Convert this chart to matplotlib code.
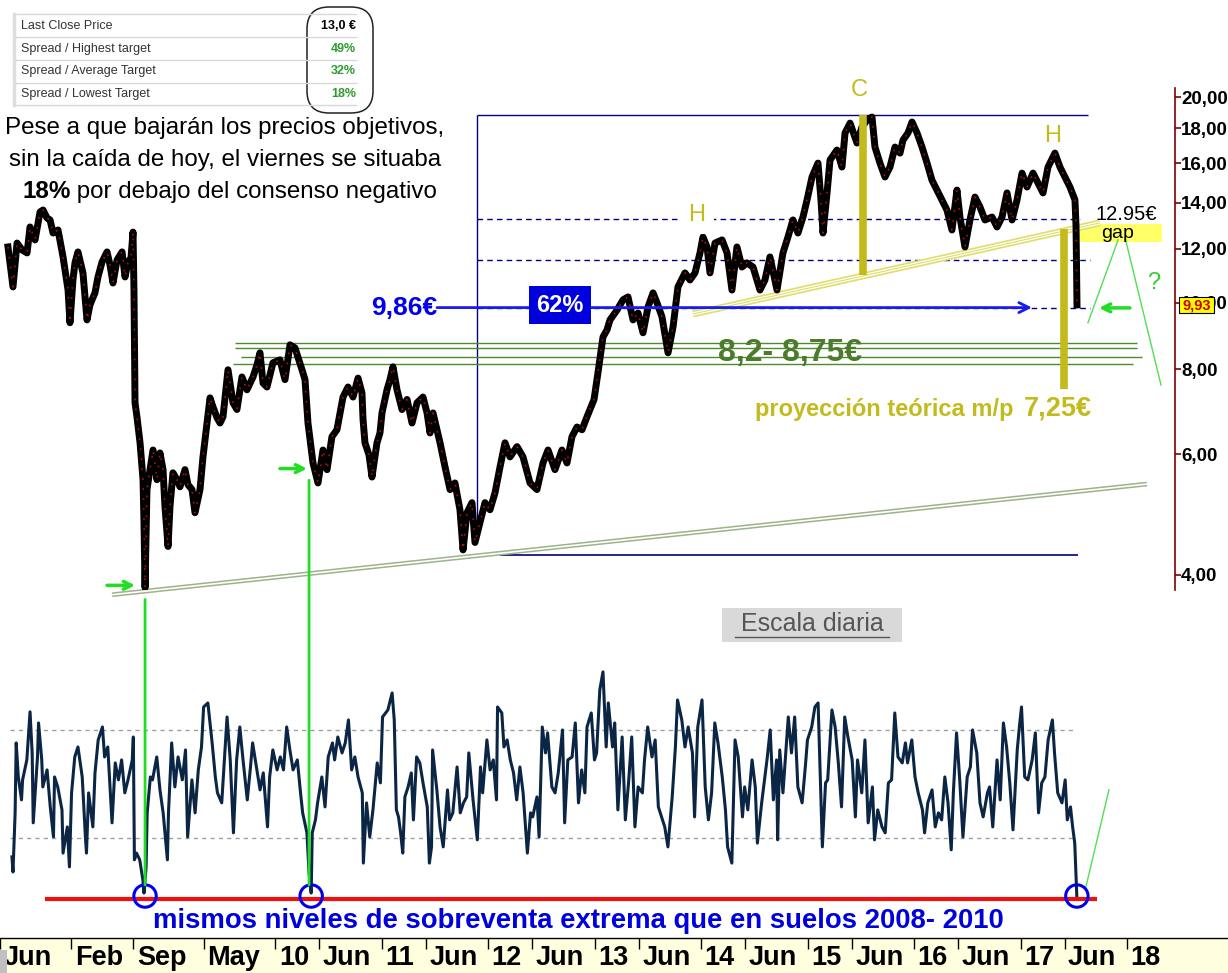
import numpy as np
import matplotlib.pyplot as plt
from matplotlib.patches import FancyBboxPatch, Rectangle, ConnectionPatch
from matplotlib.ticker import NullLocator

plt.rcParams['font.family'] = ['Liberation Sans', 'DejaVu Sans']

# --- price (decimal year, euros) ---
price_t = [
    2007.493, 2007.540, 2007.578, 2007.625, 2007.672, 2007.700, 2007.747, 2007.794, 2007.822, 2007.859,
    2007.888, 2007.916, 2007.963, 2008.010, 2008.057, 2008.075, 2008.103, 2008.122, 2008.150, 2008.197,
    2008.235, 2008.263, 2008.282, 2008.310, 2008.338, 2008.376, 2008.423, 2008.451, 2008.479, 2008.517,
    2008.564, 2008.592, 2008.620, 2008.648, 2008.667, 2008.676, 2008.686, 2008.704, 2008.733, 2008.761,
    2008.770, 2008.780, 2008.798, 2008.827, 2008.855, 2008.892, 2008.920, 2008.949, 2008.967, 2008.996,
    2009.014, 2009.042, 2009.080, 2009.108, 2009.155, 2009.183, 2009.221, 2009.249, 2009.296, 2009.324,
    2009.362, 2009.390, 2009.418, 2009.456, 2009.484, 2009.512, 2009.559, 2009.606, 2009.643, 2009.690,
    2009.737, 2009.794, 2009.831, 2009.859, 2009.888, 2009.925, 2009.981, 2010.047, 2010.094, 2010.141,
    2010.188, 2010.254, 2010.282, 2010.310, 2010.329, 2010.357, 2010.404, 2010.451, 2010.489, 2010.535,
    2010.582, 2010.639, 2010.686, 2010.733, 2010.780, 2010.817, 2010.827, 2010.845, 2010.883, 2010.911,
    2010.958, 2010.986, 2011.005, 2011.052, 2011.080, 2011.108, 2011.146, 2011.193, 2011.240, 2011.287,
    2011.334, 2011.390, 2011.428, 2011.456, 2011.484, 2011.521, 2011.550, 2011.597, 2011.644, 2011.690,
    2011.737, 2011.766, 2011.803, 2011.850, 2011.878, 2011.925, 2011.972, 2012.019, 2012.066, 2012.113,
    2012.160, 2012.207, 2012.273, 2012.329, 2012.395, 2012.460, 2012.517, 2012.564, 2012.629, 2012.695,
    2012.742, 2012.789, 2012.836, 2012.883, 2012.930, 2012.958, 2012.996, 2013.033, 2013.080, 2013.118,
    2013.146, 2013.212, 2013.268, 2013.315, 2013.362, 2013.409, 2013.456, 2013.503, 2013.550, 2013.587,
    2013.634, 2013.691, 2013.738, 2013.784, 2013.850, 2013.897, 2013.944, 2013.991, 2014.019, 2014.057,
    2014.085, 2014.132, 2014.198, 2014.245, 2014.291, 2014.338, 2014.385, 2014.432, 2014.489, 2014.554,
    2014.601, 2014.648, 2014.714, 2014.770, 2014.817, 2014.864, 2014.911, 2014.958, 2014.996, 2015.043,
    2015.099, 2015.127, 2015.146, 2015.184, 2015.212, 2015.277, 2015.324, 2015.353, 2015.400, 2015.465,
    2015.512, 2015.559, 2015.606, 2015.634, 2015.681, 2015.728, 2015.775, 2015.822, 2015.869, 2015.897,
    2015.944, 2015.982, 2016.029, 2016.076, 2016.123, 2016.169, 2016.216, 2016.263, 2016.310, 2016.357,
    2016.404, 2016.432, 2016.479, 2016.526, 2016.573, 2016.620, 2016.667, 2016.733, 2016.780, 2016.827,
    2016.874, 2016.921, 2016.968, 2017.015, 2017.062, 2017.118, 2017.165, 2017.212, 2017.259, 2017.324,
    2017.371, 2017.418, 2017.465, 2017.512, 2017.522, 2017.531]
price_v = [
    12.07, 10.55, 12.23, 11.95, 11.83, 12.91, 12.36, 13.58, 13.67, 13.31,
    13.22, 12.65, 12.78, 11.67, 10.44, 9.35, 10.80, 11.44, 11.87, 11.06,
    9.44, 9.93, 10.10, 10.34, 10.91, 11.47, 11.87, 11.36, 10.69, 11.55,
    11.87, 10.91, 11.47, 11.63, 12.69, 10.44, 7.14, 6.81, 6.24, 5.51,
    4.77, 3.83, 5.33, 5.70, 6.09, 5.51, 6.03, 5.70, 5.03, 4.40,
    5.03, 5.64, 5.51, 5.38, 5.70, 5.42, 5.33, 4.93, 5.33, 5.95,
    6.67, 7.26, 7.04, 6.79, 6.67, 6.81, 7.98, 7.14, 6.98, 7.79,
    7.46, 7.79, 8.11, 8.45, 7.63, 7.53, 8.17, 8.25, 7.72, 8.68,
    8.59, 7.98, 7.72, 6.67, 6.31, 5.83, 5.45, 6.09, 5.70, 6.37,
    6.52, 7.28, 7.53, 7.28, 7.76, 7.38, 6.75, 6.24, 5.99, 5.56,
    6.24, 6.45, 6.90, 7.46, 7.72, 8.06, 7.46, 6.98, 7.22, 6.67,
    7.14, 7.28, 6.90, 6.45, 6.90, 6.52, 6.24, 5.75, 5.33, 5.45,
    4.98, 4.35, 4.93, 5.10, 4.46, 4.77, 5.10, 4.98, 5.27, 5.75,
    6.24, 5.95, 6.16, 5.95, 5.45, 5.33, 5.83, 6.09, 5.70, 6.09,
    5.83, 6.37, 6.58, 6.52, 6.81, 6.98, 7.22, 7.90, 8.91, 9.13,
    9.44, 9.76, 10.10, 10.20, 9.44, 9.66, 9.04, 9.86, 10.34, 10.00,
    9.54, 8.45, 9.22, 10.55, 11.06, 10.80, 11.06, 11.83, 12.48, 12.07,
    11.06, 12.23, 12.36, 11.83, 10.44, 12.07, 11.28, 11.44, 11.28, 10.44,
    10.80, 11.67, 10.44, 11.83, 12.48, 13.22, 12.65, 13.35, 14.14, 15.28,
    16.01, 14.14, 12.65, 14.48, 16.18, 16.73, 15.80, 17.72, 18.32, 17.13,
    18.08, 18.51, 18.70, 16.90, 16.01, 15.28, 15.80, 16.90, 16.56, 17.30,
    17.72, 18.39, 17.72, 16.90, 16.01, 15.12, 14.62, 14.14, 13.67, 12.78,
    14.62, 13.35, 12.07, 13.22, 14.28, 13.81, 13.22, 13.35, 12.91, 13.35,
    14.48, 13.22, 14.14, 15.48, 14.77, 15.48, 14.97, 14.48, 15.80, 16.56,
    15.80, 15.28, 14.77, 14.14, 12.95, 9.93]

# --- oscillator (decimal year, 0-100 scale) ---
osc_t = [
    2007.53, 2007.54, 2007.56, 2007.57, 2007.59, 2007.62, 2007.63, 2007.67, 2007.70, 2007.72,
    2007.73, 2007.77, 2007.78, 2007.81, 2007.82, 2007.86, 2007.89, 2007.92, 2007.93, 2007.96,
    2008.00, 2008.01, 2008.05, 2008.07, 2008.09, 2008.12, 2008.15, 2008.19, 2008.22, 2008.23,
    2008.25, 2008.29, 2008.31, 2008.34, 2008.38, 2008.40, 2008.43, 2008.47, 2008.50, 2008.53,
    2008.56, 2008.59, 2008.62, 2008.66, 2008.67, 2008.68, 2008.70, 2008.73, 2008.76, 2008.77,
    2008.79, 2008.80, 2008.83, 2008.85, 2008.89, 2008.92, 2008.95, 2008.99, 2009.00, 2009.03,
    2009.06, 2009.09, 2009.13, 2009.16, 2009.18, 2009.22, 2009.25, 2009.28, 2009.31, 2009.33,
    2009.37, 2009.41, 2009.44, 2009.46, 2009.50, 2009.55, 2009.58, 2009.61, 2009.64, 2009.67,
    2009.70, 2009.74, 2009.77, 2009.79, 2009.83, 2009.86, 2009.89, 2009.93, 2009.95, 2009.98,
    2010.02, 2010.05, 2010.08, 2010.11, 2010.14, 2010.17, 2010.21, 2010.24, 2010.26, 2010.30,
    2010.32, 2010.34, 2010.35, 2010.38, 2010.40, 2010.44, 2010.47, 2010.50, 2010.54, 2010.56,
    2010.59, 2010.63, 2010.66, 2010.69, 2010.72, 2010.75, 2010.78, 2010.82, 2010.83, 2010.86,
    2010.89, 2010.92, 2010.96, 2010.99, 2011.01, 2011.06, 2011.10, 2011.12, 2011.14, 2011.16,
    2011.18, 2011.20, 2011.22, 2011.25, 2011.28, 2011.30, 2011.33, 2011.36, 2011.39, 2011.43,
    2011.45, 2011.47, 2011.48, 2011.52, 2011.55, 2011.58, 2011.62, 2011.64, 2011.67, 2011.71,
    2011.74, 2011.77, 2011.80, 2011.82, 2011.86, 2011.90, 2011.93, 2011.95, 2011.99, 2012.02,
    2012.05, 2012.08, 2012.09, 2012.13, 2012.15, 2012.18, 2012.21, 2012.24, 2012.27, 2012.30,
    2012.33, 2012.37, 2012.40, 2012.42, 2012.46, 2012.48, 2012.51, 2012.54, 2012.56, 2012.60,
    2012.63, 2012.66, 2012.70, 2012.72, 2012.75, 2012.79, 2012.82, 2012.85, 2012.88, 2012.91,
    2012.93, 2012.97, 2013.00, 2013.02, 2013.05, 2013.08, 2013.11, 2013.13, 2013.17, 2013.19,
    2013.22, 2013.26, 2013.29, 2013.32, 2013.35, 2013.38, 2013.41, 2013.45, 2013.47, 2013.50,
    2013.54, 2013.57, 2013.60, 2013.63, 2013.66, 2013.69, 2013.73, 2013.76, 2013.78, 2013.82,
    2013.85, 2013.88, 2013.92, 2013.94, 2013.97, 2014.01, 2014.04, 2014.07, 2014.10, 2014.13,
    2014.16, 2014.20, 2014.23, 2014.25, 2014.29, 2014.32, 2014.35, 2014.39, 2014.41, 2014.44,
    2014.48, 2014.51, 2014.53, 2014.57, 2014.62, 2014.65, 2014.68, 2014.71, 2014.72, 2014.74,
    2014.77, 2014.79, 2014.82, 2014.85, 2014.88, 2014.91, 2014.95, 2014.98, 2015.00, 2015.04,
    2015.07, 2015.10, 2015.14, 2015.17, 2015.19, 2015.23, 2015.26, 2015.29, 2015.32, 2015.35,
    2015.38, 2015.42, 2015.45, 2015.47, 2015.51, 2015.54, 2015.57, 2015.61, 2015.63, 2015.66,
    2015.70, 2015.73, 2015.76, 2015.79, 2015.82, 2015.85, 2015.89, 2015.92, 2015.94, 2015.98,
    2016.01, 2016.04, 2016.08, 2016.10, 2016.13, 2016.17, 2016.20, 2016.23, 2016.26, 2016.29,
    2016.32, 2016.35, 2016.37, 2016.40, 2016.43, 2016.46, 2016.50, 2016.53, 2016.55, 2016.59,
    2016.62, 2016.65, 2016.69, 2016.71, 2016.74, 2016.78, 2016.81, 2016.84, 2016.87, 2016.90,
    2016.93, 2016.97, 2016.99, 2017.01, 2017.04, 2017.07, 2017.11, 2017.14, 2017.17, 2017.20,
    2017.23, 2017.26, 2017.30, 2017.32, 2017.35, 2017.39, 2017.42, 2017.44, 2017.47, 2017.49,
    2017.51, 2017.53]
osc_v = [
    23.0, 17.4, 39.3, 65.2, 52.6, 44.1, 51.5, 58.9, 76.7, 61.5,
    35.6, 60.0, 72.6, 58.9, 48.9, 55.2, 41.5, 30.4, 52.6, 48.9,
    40.4, 24.4, 34.1, 19.3, 46.7, 60.0, 63.7, 52.6, 30.4, 24.4,
    46.7, 34.1, 54.1, 66.3, 71.1, 60.0, 63.7, 35.6, 57.8, 51.5,
    58.9, 46.7, 51.5, 58.9, 67.4, 21.9, 24.4, 21.9, 14.4, 9.6,
    19.3, 39.3, 52.6, 51.5, 60.0, 47.8, 39.3, 21.9, 39.3, 65.2,
    48.9, 60.0, 51.5, 62.6, 30.4, 51.5, 39.3, 55.2, 63.7, 78.5,
    80.0, 65.2, 52.6, 46.7, 43.0, 74.8, 58.9, 31.9, 58.9, 71.1,
    58.9, 44.1, 56.3, 65.2, 55.2, 47.8, 54.1, 34.1, 52.6, 62.6,
    55.2, 60.0, 55.2, 71.1, 62.6, 55.2, 58.9, 46.7, 39.3, 31.9,
    17.0, 9.6, 31.9, 36.7, 43.0, 52.6, 41.5, 60.0, 65.2, 58.9,
    67.4, 61.5, 65.2, 73.7, 55.2, 60.0, 52.6, 46.7, 20.7, 43.0,
    30.4, 40.4, 57.8, 50.4, 74.8, 77.4, 83.7, 73.7, 40.4, 37.8,
    31.9, 24.4, 45.2, 48.9, 54.1, 36.7, 60.0, 57.8, 50.4, 41.5,
    20.7, 26.7, 62.6, 47.8, 34.1, 26.7, 47.8, 36.7, 39.3, 56.3,
    39.3, 43.0, 45.2, 61.5, 44.1, 29.3, 56.3, 46.7, 66.3, 55.2,
    58.9, 44.1, 78.5, 76.3, 63.7, 66.3, 58.9, 54.1, 44.1, 56.3,
    46.7, 24.4, 39.3, 37.8, 45.2, 30.4, 71.1, 61.5, 68.9, 48.9,
    46.7, 54.1, 70.0, 35.6, 58.9, 60.0, 72.6, 43.0, 55.2, 46.7,
    71.1, 76.3, 58.9, 61.5, 84.8, 91.5, 63.7, 80.0, 63.7, 72.6,
    40.4, 67.4, 36.7, 50.4, 67.4, 34.1, 48.9, 46.7, 58.9, 71.1,
    60.0, 66.3, 41.5, 37.8, 34.1, 26.7, 45.2, 63.7, 81.1, 73.7,
    63.7, 71.1, 61.5, 37.8, 71.1, 81.1, 48.9, 36.7, 46.7, 72.6,
    65.2, 52.6, 40.4, 26.7, 20.7, 66.3, 60.0, 37.8, 48.9, 40.4,
    58.9, 48.9, 28.1, 43.0, 58.9, 70.0, 44.1, 58.9, 29.3, 62.6,
    46.7, 57.8, 74.8, 61.5, 74.8, 48.9, 43.0, 56.3, 66.3, 71.1,
    78.5, 80.0, 26.7, 50.4, 51.5, 77.4, 71.1, 57.8, 41.5, 74.8,
    67.4, 58.9, 37.8, 58.9, 46.7, 66.3, 35.6, 48.9, 29.3, 40.4,
    34.1, 31.9, 50.4, 51.5, 76.3, 60.0, 57.8, 65.2, 57.8, 66.3,
    52.6, 46.7, 40.4, 31.9, 43.0, 47.8, 34.1, 39.3, 36.7, 52.6,
    43.0, 25.6, 46.7, 68.9, 51.5, 30.4, 52.6, 56.3, 70.0, 61.5,
    43.0, 37.8, 46.7, 48.9, 34.1, 58.9, 44.1, 72.6, 63.7, 50.4,
    33.0, 62.6, 71.1, 78.5, 52.6, 51.5, 58.9, 68.9, 39.3, 50.4,
    52.6, 66.3, 73.7, 61.5, 46.7, 43.0, 51.5, 36.7, 41.5, 34.1,
    28.1, 7.8]

# annotation levels (euros)
fib_levels = [18.8, 13.25, 11.55, 9.84, 4.27]
zone_levels = [8.74, 8.59, 8.33, 8.14]
zone_start = [2009.625, 2009.625, 2009.681, 2009.606]
zone_end = [2018.094, 2018.094, 2018.141, 2018.056]
price_ticks = [4, 6, 8, 10, 12, 14, 16, 18, 20]
osc_bands = [30, 70]
oversold_level = 7.4
oversold_dates = [2008.78, 2010.34, 2017.53]

date_ticks = [2007.414, 2008.085, 2008.668, 2009.33, 2010.0, 2010.414, 2011.0, 2011.414,
              2012.0, 2012.414, 2013.0, 2013.414, 2014.0, 2014.414, 2015.0, 2015.414,
              2016.0, 2016.414, 2017.0, 2017.414, 2018.0]
date_labels = ["Jun", "Feb", "Sep", "May", "10", "Jun", "11", "Jun", "12", "Jun", "13",
               "Jun", "14", "Jun", "15", "Jun", "16", "Jun", "17", "Jun", "18"]

table_rows = ["Last Close Price", "Spread / Highest target",
              "Spread / Average Target", "Spread / Lowest Target"]
table_vals = ["13,0 €", "49%", "32%", "18%"]

W, H = 1228, 973
X0, X1 = 2007.418, 2018.949
OLIVE = '#c3bb1c'
LIME = '#22dd22'
NAVY = '#000080'

fig = plt.figure(figsize=(W / 100, H / 100), dpi=100)
fig.patch.set_facecolor('white')

ax = fig.add_axes([0, 1 - 590 / H, 1, 502 / H])
osc = fig.add_axes([0, 1 - 910 / H, 1, 250 / H])
dax = fig.add_axes([0, 0, 1, 35 / H])
ov = fig.add_axes([0, 0, 1, 1], zorder=5)
ov.set_xlim(0, W)
ov.set_ylim(H, 0)
ov.axis('off')

# ---------------- price panel ----------------
ax.set_yscale('log')
ax.set_xlim(X0, X1)
ax.set_ylim(3.80, 20.62)
for s in ['top', 'left', 'bottom']:
    ax.spines[s].set_visible(False)
ax.spines['right'].set_position(('data', 2018.451))
ax.spines['right'].set_color('#800000')
ax.spines['right'].set_linewidth(1.2)
ax.yaxis.tick_right()
ax.set_yticks(price_ticks, labels=[f"{v:.2f}".replace('.', ',') for v in price_ticks],
              fontsize=13.5, fontweight='bold')
ax.yaxis.set_minor_locator(NullLocator())
ax.tick_params(axis='y', colors='#800000', labelcolor='black', length=4, width=1.2, pad=0.5)
ax.set_xticks([])

ax.plot(price_t, price_v, color='black', lw=5, zorder=4)
ax.plot(price_t, price_v, color='#b01010', lw=1.2, ls=(0, (1, 5)), zorder=5)

# fibonacci box
ax.hlines(fib_levels[0], 2011.897, 2017.634, color=NAVY, lw=1)
ax.vlines(2011.897, 4.70, fib_levels[0], color=NAVY, lw=1)
ax.hlines(fib_levels[-1], 2012.113, 2017.540, color=NAVY, lw=1.2)
for lvl, xe in zip(fib_levels[1:4], [2017.559, 2017.653, 2017.653]):
    ax.hlines(lvl, 2011.897, xe, colors=NAVY, linestyles=(0, (4, 3)), lw=1)
ax.annotate('', xy=(2017.108, fib_levels[3]), xytext=(2011.521, fib_levels[3]),
            arrowprops=dict(arrowstyle='->', color='#1a1aee', lw=2, mutation_scale=18,
                            shrinkA=0, shrinkB=0), zorder=6)

# support zone 8,2 - 8,75
for lvl, xs, xe in zip(zone_levels, zone_start, zone_end):
    ax.hlines(lvl, xs, xe, color='#4f8a2f', lw=1, zorder=3)

# neckline (triple yellow line)
neck_t, neck_v = [2013.925, 2017.747], [9.63, 13.09]
ax.plot(neck_t, neck_v, color='#dede6a', lw=5, zorder=3, solid_capstyle='butt')
ax.plot(neck_t, neck_v, color='white', lw=2.6, zorder=3, solid_capstyle='butt')
ax.plot(neck_t, neck_v, color='#dede6a', lw=0.8, zorder=3, solid_capstyle='butt')

# long support line (double)
sup_t, sup_v = [2008.470, 2018.188], [3.74, 5.43]
ax.plot(sup_t, sup_v, color='#9db38a', lw=3.4, zorder=3, clip_on=False, solid_capstyle='butt')
ax.plot(sup_t, sup_v, color='white', lw=1.2, zorder=3, clip_on=False, solid_capstyle='butt')

# projection bars
ax.vlines(2015.526, 10.98, fib_levels[0], color=OLIVE, lw=5.5, zorder=6)
ax.vlines(2017.413, 7.48, 12.82, color=OLIVE, lw=5.5, zorder=6)

# gap box
ax.add_patch(Rectangle((2017.512, 12.28), 2018.329 - 2017.512, 13.04 - 12.28,
                       facecolor='#ffff66', edgecolor='none', zorder=2))

# green arrows and lines
for xs, xe, lvl in [(2008.423, 2008.686, 3.86), (2010.047, 2010.301, 5.72), (2018.028, 2017.738, 9.83)]:
    ax.annotate('', xy=(xe, lvl), xytext=(xs, lvl), annotation_clip=False,
                arrowprops=dict(arrowstyle='->', color=LIME, lw=2.5, mutation_scale=14,
                                shrinkA=0, shrinkB=0), zorder=7)
ax.plot([2017.917, 2017.634], [12.36, 9.35], color='#55dd55', lw=1, zorder=6)
ax.plot([2017.983, 2018.320], [12.44, 7.58], color='#55dd55', lw=1, zorder=6)

# ---------------- oscillator panel ----------------
osc.set_xlim(X0, X1)
osc.set_ylim(3.33, 95.9)
osc.axis('off')
osc.hlines(osc_bands, 2007.512, 2017.512, colors='#a0a0a0', linestyles=(0, (3, 3)), lw=1)
osc.plot(osc_t, osc_v, color='#0b2545', lw=2.2, zorder=3)
osc.hlines(oversold_level, 2007.841, 2017.719, color='#ee1111', lw=3, zorder=4)
osc.scatter(oversold_dates, [8.5] * len(oversold_dates), s=260, facecolors='none',
            edgecolors='#0000ee', linewidths=2.2, zorder=6)
osc.plot([2017.615, 2017.831], [11.9, 47.8], color='#55dd55', lw=1)

for t, top in [(2008.78, 3.68), (2010.32, 5.5)]:
    con = ConnectionPatch(xyA=(t, top), coordsA=ax.transData, xyB=(t, 12.6),
                          coordsB=osc.transData, color=LIME, lw=2, zorder=3)
    fig.add_artist(con)

# ---------------- date band ----------------
dax.set_xlim(X0, X1)
dax.set_ylim(0, 1)
dax.set_facecolor('#ffffe0')
for s in ['left', 'right', 'bottom']:
    dax.spines[s].set_visible(False)
dax.spines['top'].set_linewidth(1)
dax.set_yticks([])
dax.set_xticks(date_ticks)
dax.tick_params(axis='x', top=True, bottom=False, direction='in', length=8, width=1,
                labelbottom=False, labeltop=False)
for t, lab in zip(date_ticks, date_labels):
    dax.annotate(lab, (t, 0.43), xytext=(2.5, 0), textcoords='offset points',
                 ha='left', va='center', fontsize=19.5, fontweight='bold', annotation_clip=False)

# ---------------- texts / overlay ----------------
# summary table
ov.plot([14, 14], [14, 105], color='#dddddd', lw=2.5)
ov.hlines([14, 37, 60, 83, 105], 15, 357, color='#d8d8d8', lw=1)
for i, (lab, val) in enumerate(zip(table_rows, table_vals)):
    y = 26 + i * 22.7
    ov.text(21, y, lab, fontsize=9, color='#333333', va='center')
    ov.text(356, y, val, fontsize=9, fontweight='bold', ha='right', va='center',
            color='black' if i == 0 else '#2e9a2e')
ov.add_patch(FancyBboxPatch((307, 7), 66, 106, boxstyle='round,pad=0,rounding_size=22',
                            fill=False, ec='#222222', lw=1.1))

ov.text(225, 128, "Pese a que bajarán los precios objetivos,", ha='center', va='center', fontsize=17.4)
ov.text(225, 160, "sin la caída de hoy, el viernes se situaba", ha='center', va='center', fontsize=17.4)
ov.text(22, 192, "18%", ha='left', va='center', fontsize=17.4, fontweight='bold')
ov.text(70, 192, " por debajo del consenso negativo", ha='left', va='center', fontsize=17.4)

ov.text(859, 90, "C", ha='center', va='center', fontsize=17, color=OLIVE)
ov.text(697, 215, "H", ha='center', va='center', fontsize=17, color=OLIVE,
        bbox=dict(boxstyle='square,pad=0.35', fc='white', ec='none'))
ov.text(1053, 136, "H", ha='center', va='center', fontsize=17, color=OLIVE)

ov.text(437, 308, "9,86€", ha='right', va='center', fontsize=19, fontweight='bold', color='#0000ee')
ov.text(560, 305, "62%", ha='center', va='center', fontsize=17, fontweight='bold', color='white',
        bbox=dict(boxstyle='square,pad=0.3', fc='#0000dd', ec='none'))
ov.text(790, 353, "8,2- 8,75€", ha='center', va='center', fontsize=23, fontweight='bold', color='#4b7b2b')
ov.text(755, 416, "proyección teórica m/p", ha='left', va='baseline', fontsize=17,
        fontweight='bold', color=OLIVE)
ov.text(1024, 416, "7,25€", ha='left', va='baseline', fontsize=19.5, fontweight='bold', color=OLIVE)

ov.text(1126, 214, "12.95€", ha='center', va='center', fontsize=14.5)
ov.text(1118, 233, "gap", ha='center', va='center', fontsize=14)
ov.text(1154, 283, "?", ha='center', va='center', fontsize=17, color='#33cc33')

ov.add_patch(Rectangle((1179, 297), 35, 16, facecolor='#ffff00', edgecolor='black', lw=0.8))
ov.text(1196.5, 305.5, "9,93", ha='center', va='center', fontsize=10.5, fontweight='bold', color='#cc0000')

ov.add_patch(Rectangle((722, 608), 180, 34, facecolor='#d9d9d9', edgecolor='none'))
ov.text(812, 624, "Escala diaria", ha='center', va='center', fontsize=18, color='#555555')
ov.plot([735, 889], [637, 637], color='#555555', lw=1)

ov.text(153, 921, "mismos niveles de sobreventa extrema que en suelos 2008- 2010",
        ha='left', va='center', fontsize=19.8, fontweight='bold', color='#0000dd')
ov.add_patch(Rectangle((0, 950), 7, 23, facecolor='#c0c0c0', edgecolor='none'))

fig.savefig('out.png', dpi=100)
